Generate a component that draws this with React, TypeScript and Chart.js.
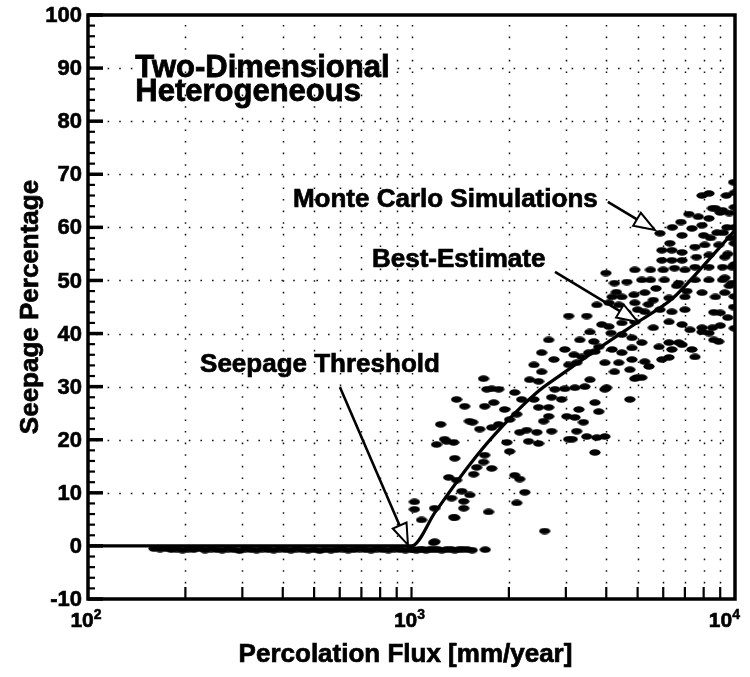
import React, { useEffect, useRef } from "react";
import { Chart, registerables } from "chart.js";

Chart.register(...registerables);

// ---------------- data ----------------
const X_MIN = 100;
const X_MAX = 10000;
const Y_MIN = -10;
const Y_MAX = 100;
const Y_STEP = 10;
const Y_MINOR_STEP = 2;

const yTickLabels = ["-10", "0", "10", "20", "30", "40", "50", "60", "70", "80", "90", "100"];
const xMajorTicks = [100, 1000, 10000];
const xMajorExponents = ["2", "3", "4"];
const xMinorTicks = [200, 300, 400, 500, 600, 700, 800, 900, 2000, 3000, 4000, 5000, 6000, 7000, 8000, 9000];

const xAxisTitle = "Percolation Flux [mm/year]";
const yAxisTitle = "Seepage Percentage";
const plotTitleLines = ["Two-Dimensional", "Heterogeneous"];
const annotationTexts = ["Monte Carlo Simulations", "Best-Estimate", "Seepage Threshold"];

const bestEstimateX = [100, 1000, 1185, 1500, 1810, 2430, 2910, 3960, 5110, 6380, 7520, 8900, 10000];
const bestEstimateY = [0, 0, 6.4, 15, 21, 28.8, 32.3, 38, 42.5, 46.5, 51, 56, 59.5];

const monteCarloX = [
  // zero-seepage realizations
  160, 167, 174, 181, 188, 196, 204, 212, 221, 230,
  240, 250, 260, 271, 282, 294, 306, 319, 332, 346,
  360, 375, 391, 407, 424, 441, 460, 479, 499, 520,
  541, 564, 587, 612, 637, 664, 691, 720, 750, 781,
  814, 848, 883, 920, 958, 998,
  1010, 1035, 1060, 1085, 1110, 1140, 1170, 1200, 1240, 1280,
  1320, 1360, 1400, 1440, 1490, 1540, 1690,
  // low flux
  1230, 1545, 1625, 1770, 1860,
  2160, 2270, 2440, 2710, 2560,
  1283, 1350, 1195, 1970, 2010,
  2300, 2470, 1683, 1360, 1670,
  1590, 1770, 1556, 1303, 1378,
  2085, 2160, 2240, 1450, 1515,
  1330, 2115, 1021, 1021, 1178,
  1450, 1730, 1074, 1360, 2580,
  1170,
  // mid flux
  3740, 4075, 3060, 3480, 3875,
  4075, 2655, 3313, 3560, 3660,
  3790, 2525, 2755, 2978, 3178,
  3360, 3530, 3690, 2390, 2525,
  3060, 3240, 1670, 2318, 2470,
  2775, 2978, 3200, 3435, 3560,
  1770, 1860, 2085, 2190, 2710,
  2910, 2390, 1683, 1795, 3690,
  2470, 2655, 3290, 1940, 2115,
  2010, 3790, 3020, 3200, 2655,
  1378, 1265, 1430, 1350, 1180,
  1710, 1460, 1510, 3240, 3480,
  3740, 3060, 3690, 3960, 4730,
  4980, 4010, 3400, 3140,
  // 4000-9000
  4370, 4900, 5260, 5860, 6380,
  7000, 9000, 6250, 6860, 7260,
  7910, 8310, 4470, 4900, 5590,
  4140, 4470, 4800, 5150, 5820,
  6250, 6860, 7360, 4170, 4470,
  4800, 3960, 4370, 4800, 5260,
  5940, 4240, 4730, 4900, 5150,
  // high flux
  5860, 6290, 6860, 7360, 7910,
  8310, 9000, 8700, 8310, 9450,
  9600, 9950, 5940, 6380, 6860,
  7520, 8060, 8900, 5940, 6380,
  6860, 7600, 8310, 9300, 5480,
  6000, 6500, 7000, 4900, 7520,
  8310, 9150, 9800, 5150, 5480,
  6050, 6700, 7520, 8310, 9150,
  9800, 4240, 4630, 4170, 4470,
  4870, 5260, 5590, 6250, 7000,
  7910, 8700, 9300,
  // extras
  7910, 8520, 8900, 6700, 6380,
  5420, 7520, 6250, 3960, 8600,
  7910, 8520, 9150, 3990, 4300,
  9950, 9950, 9900, 9950, 9950,
  9950, 9700, 9500, 9200, 8800,
  8400, 8000, 7700, 7200, 6800,
  6400, 9400, 9900, 9500, 9000,
  8600, 9950, 9600, 9300, 5700,
  6600, 7100, 4600, 5000, 5400,
];

const monteCarloY = [
  // zero-seepage realizations
  -0.5, -0.6, -0.5, -0.7, -0.6, -0.8, -0.6, -0.7, -0.5, -0.8,
  -0.6, -0.7, -0.8, -0.6, -0.7, -0.9, -0.6, -0.7, -0.8, -0.6,
  -0.7, -0.8, -0.6, -0.7, -0.8, -0.6, -0.7, -0.8, -0.7, -0.9,
  -0.7, -0.8, -0.7, -0.6, -0.8, -0.7, -0.6, -0.7, -0.8, -0.6,
  -0.7, -0.8, -0.6, -0.7, -0.8, -0.6,
  -0.7, -0.8, -0.6, -0.7, -0.8, -0.6, -0.7, -0.6, -0.8, -0.7,
  -0.6, -0.8, -0.7, -0.6, -0.7, -0.8, -0.7,
  // low flux
  22.9, 23.3, 22.0, 22.3, 22.9,
  21.4, 21.8, 21.4, 21.6, 23.5,
  19.7, 19.5, 19.1, 19.5, 17.8,
  19.7, 19.3, 17.1, 16.5, 15.8,
  14.8, 14.6, 13.5, 12.9, 12.4,
  13.3, 12.6, 10.1, 8.4, 9.6,
  9.0, 8.1, 8.3, 6.9, 7.1,
  7.1, 6.4, 4.9, 5.3, 2.8,
  0.6,
  // mid flux
  45.4, 45.8, 43.3, 43.3, 41.7,
  41.3, 38.8, 38.8, 40.3, 38.5,
  37.5, 36.4, 35.1, 37.0, 36.0,
  35.6, 36.4, 36.6, 34.1, 32.8,
  34.1, 34.5, 31.5, 31.3, 31.0,
  29.5, 29.6, 29.8, 30.0, 31.3,
  29.6, 29.5, 28.9, 27.6, 28.0,
  27.6, 27.6, 26.3, 27.0, 27.0,
  26.1, 26.1, 25.7, 25.7, 24.8,
  23.8, 25.3, 24.4, 24.2, 24.4,
  27.6, 20.1, 10.3, 5.4, 0.8,
  29.5, 26.3, 23.5, 21.6, 20.6,
  20.4, 20.1, 17.6, 20.6, 27.6,
  31.7, 29.8, 23.3, 20.1,
  // 4000-9000
  45.4, 45.8, 44.1, 44.5, 44.1,
  44.5, 43.9, 42.2, 41.7, 40.7,
  40.3, 40.1, 42.0, 42.2, 41.1,
  40.1, 39.8, 39.2, 38.3, 37.5,
  38.3, 37.9, 37.0, 37.0, 36.4,
  37.3, 34.5, 34.5, 35.1, 34.7,
  35.1, 32.8, 33.2, 31.5, 31.7,
  // high flux
  58.9, 57.0, 58.5, 59.8, 60.4,
  61.7, 62.8, 63.6, 66.4, 60.0,
  62.7, 63.8, 55.7, 55.7, 55.3,
  56.3, 56.7, 56.7, 53.8, 53.8,
  53.8, 54.4, 54.8, 54.4, 52.0,
  52.0, 52.3, 52.0, 52.0, 52.5,
  52.5, 52.5, 52.5, 50.1, 50.1,
  50.1, 49.5, 50.1, 50.1, 50.1,
  49.5, 49.5, 49.7, 46.9, 46.9,
  47.3, 47.7, 46.3, 46.7, 46.9,
  47.7, 46.9, 47.7,
  // extras
  41.1, 41.1, 38.5, 38.3, 37.0,
  33.8, 35.6, 35.5, 29.5, 38.8,
  66.0, 63.6, 63.2, 51.4, 47.8,
  66.5, 57.0, 45.0, 41.0, 60.0,
  53.0, 58.0, 55.0, 59.0, 59.0,
  58.0, 58.5, 62.0, 62.5, 61.0,
  60.0, 66.0, 68.5, 43.0, 41.5,
  44.0, 47.0, 49.0, 50.5, 48.5,
  49.0, 48.0, 44.0, 44.5, 45.5,
];

// ---------------- layout / style ----------------
const FONT = '"Liberation Sans", Arial, Helvetica, sans-serif';
const W = 750;
const H = 677;

const layout = {
  plotLeft: 88,
  plotRightPad: 15,
  plotTop: 15,
  xAxisHeight: 78,
  titlePos: [
    { x: 140, y: 88.3 },
    { x: 140, y: 83.8 },
  ],
  titleSize: 31,
  annSize: 26,
  annPos: [
    { x: 430, y: 63.8 },
    { x: 755, y: 52.5 },
    { x: 222, y: 32.8 },
  ],
  arrows: [
    { x1: 4045, y1: 64.8, x2: 5660, y2: 59.5 },
    { x1: 2777, y1: 51.6, x2: 5010, y2: 42.2 },
    { x1: 601, y1: 29.9, x2: 975, y2: 0.2 },
  ],
};

function heavyText(ctx: CanvasRenderingContext2D, t: string, x: number, y: number, sw = 0.7) {
  ctx.fillText(t, x, y);
  ctx.lineWidth = sw;
  ctx.strokeText(t, x, y);
}

function drawArrow(ctx: CanvasRenderingContext2D, x1: number, y1: number, x2: number, y2: number) {
  const ang = Math.atan2(y2 - y1, x2 - x1);
  const headLen = 21;
  const headW = 7.5;
  const bx = x2 - headLen * Math.cos(ang);
  const by = y2 - headLen * Math.sin(ang);
  ctx.save();
  ctx.setLineDash([]);
  ctx.strokeStyle = "#000";
  ctx.lineWidth = 2.6;
  ctx.beginPath();
  ctx.moveTo(x1, y1);
  ctx.lineTo(bx, by);
  ctx.stroke();
  ctx.beginPath();
  ctx.moveTo(x2, y2);
  ctx.lineTo(bx + headW * Math.sin(ang), by - headW * Math.cos(ang));
  ctx.lineTo(bx - headW * Math.sin(ang), by + headW * Math.cos(ang));
  ctx.closePath();
  ctx.fillStyle = "#fff";
  ctx.fill();
  ctx.lineWidth = 2;
  ctx.stroke();
  ctx.restore();
}

const decorPlugin = {
  id: "decor",
  beforeDatasetsDraw(chart: any) {
    const { ctx, chartArea: a } = chart;
    const xs = chart.scales.x;
    const ys = chart.scales.y;
    ctx.save();
    ctx.beginPath();
    ctx.rect(a.left, a.top, a.right - a.left, a.bottom - a.top);
    ctx.clip();
    ctx.strokeStyle = "#111";
    ctx.lineWidth = 1.5;
    ctx.setLineDash([1.6, 10]);
    for (let v = Y_MIN + Y_STEP; v < Y_MAX; v += Y_STEP) {
      if (v === 0) continue;
      const py = Math.round(ys.getPixelForValue(v)) + 0.5;
      ctx.beginPath();
      ctx.moveTo(a.left + 8, py);
      ctx.lineTo(a.right, py);
      ctx.stroke();
    }
    for (const v of [...xMinorTicks, 1000]) {
      const px = Math.round(xs.getPixelForValue(v)) + 0.5;
      ctx.beginPath();
      ctx.moveTo(px, a.top + 10);
      ctx.lineTo(px, a.bottom - 12);
      ctx.stroke();
    }
    ctx.restore();
  },
  afterDatasetsDraw(chart: any) {
    const { ctx, chartArea: a } = chart;
    const xs = chart.scales.x;
    const ys = chart.scales.y;
    ctx.save();
    ctx.setLineDash([]);
    ctx.strokeStyle = "#000";
    ctx.fillStyle = "#000";
    // frame
    ctx.lineWidth = 3.5;
    ctx.strokeRect(a.left, a.top, a.right - a.left, a.bottom - a.top);
    // y ticks (inward)
    for (let v = Y_MIN; v <= Y_MAX; v += Y_MINOR_STEP) {
      const py = ys.getPixelForValue(v);
      const major = (v - Y_MIN) % Y_STEP === 0;
      ctx.lineWidth = major ? 3.5 : 2.2;
      ctx.beginPath();
      ctx.moveTo(a.left, py);
      ctx.lineTo(a.left + (major ? 15 : 7), py);
      ctx.stroke();
    }
    // x ticks (inward)
    ctx.lineWidth = 2.2;
    for (const v of [...xMinorTicks, 1000]) {
      const px = xs.getPixelForValue(v);
      ctx.beginPath();
      ctx.moveTo(px, a.bottom);
      ctx.lineTo(px, a.bottom - 12);
      ctx.stroke();
    }
    // y tick labels
    ctx.font = `bold 22px ${FONT}`;
    ctx.textAlign = "right";
    ctx.textBaseline = "middle";
    yTickLabels.forEach((t, i) => {
      const v = Y_MIN + i * Y_STEP;
      heavyText(ctx, t, a.left - 6, ys.getPixelForValue(v) + 1, 0.6);
    });
    // x major tick labels 10^n
    ctx.textBaseline = "alphabetic";
    ctx.textAlign = "left";
    xMajorTicks.forEach((v, i) => {
      const px = xs.getPixelForValue(v);
      ctx.font = `bold 21px ${FONT}`;
      const wBase = ctx.measureText("10").width;
      ctx.font = `bold 14px ${FONT}`;
      const wExp = ctx.measureText(xMajorExponents[i]).width;
      const total = wBase + wExp;
      let x0 = px - total / 2 - 2;
      if (x0 + total > W - 10) x0 = W - 10 - total;
      ctx.font = `bold 21px ${FONT}`;
      heavyText(ctx, "10", x0, a.bottom + 28, 0.6);
      ctx.font = `bold 14px ${FONT}`;
      heavyText(ctx, xMajorExponents[i], x0 + wBase, a.bottom + 20, 0.5);
    });
    // axis titles
    ctx.font = `bold 26px ${FONT}`;
    ctx.textAlign = "center";
    ctx.textBaseline = "alphabetic";
    heavyText(ctx, xAxisTitle, (a.left + a.right) / 2 - 6, 662);
    ctx.save();
    ctx.translate(38, (a.top + a.bottom) / 2);
    ctx.rotate(-Math.PI / 2);
    heavyText(ctx, yAxisTitle, 0, 0);
    ctx.restore();
    // plot title
    ctx.font = `bold ${layout.titleSize}px ${FONT}`;
    ctx.textAlign = "left";
    plotTitleLines.forEach((t, i) => {
      const p = layout.titlePos[i];
      heavyText(ctx, t, xs.getPixelForValue(p.x), ys.getPixelForValue(p.y), 0.8);
    });
    // annotations
    ctx.font = `bold ${layout.annSize}px ${FONT}`;
    annotationTexts.forEach((t, i) => {
      const p = layout.annPos[i];
      heavyText(ctx, t, xs.getPixelForValue(p.x), ys.getPixelForValue(p.y), 0.7);
    });
    layout.arrows.forEach((ar) => {
      drawArrow(
        ctx,
        xs.getPixelForValue(ar.x1),
        ys.getPixelForValue(ar.y1),
        xs.getPixelForValue(ar.x2),
        ys.getPixelForValue(ar.y2)
      );
    });
    ctx.restore();
  },
};

function makeBlob(): HTMLCanvasElement {
  const c = document.createElement("canvas");
  c.width = 12;
  c.height = 7;
  const g = c.getContext("2d")!;
  g.fillStyle = "#000";
  g.beginPath();
  g.ellipse(6, 3.5, 5.6, 3.3, 0, 0, Math.PI * 2);
  g.fill();
  return c;
}

export default function App() {
  const ref = useRef<HTMLCanvasElement | null>(null);

  useEffect(() => {
    if (!ref.current) return;
    const blob = makeBlob();
    const mcData = monteCarloX.map((x, i) => ({ x, y: monteCarloY[i] }));
    const beData = bestEstimateX.map((x, i) => ({ x, y: bestEstimateY[i] }));

    const chart = new Chart(ref.current, {
      type: "scatter",
      data: {
        datasets: [
          {
            label: "Best-Estimate",
            data: beData,
            showLine: true,
            borderColor: "#000",
            borderWidth: 3.2,
            pointRadius: 0,
            cubicInterpolationMode: "monotone",
            order: 0,
          } as any,
          {
            label: "Monte Carlo Simulations",
            data: mcData,
            showLine: false,
            pointStyle: blob as any,
            pointRadius: 5,
            backgroundColor: "#000",
            borderColor: "#000",
            order: 1,
          } as any,
        ],
      },
      options: {
        responsive: false,
        animation: false,
        devicePixelRatio: 1,
        layout: {
          padding: { left: 0, right: layout.plotRightPad, top: layout.plotTop, bottom: 0 },
        },
        plugins: {
          legend: { display: false },
          tooltip: { enabled: false },
        },
        scales: {
          x: {
            type: "logarithmic",
            min: X_MIN,
            max: X_MAX,
            grid: { display: false, drawTicks: false },
            border: { display: false },
            ticks: { display: false },
            afterFit: (s: any) => {
              s.height = layout.xAxisHeight;
            },
          },
          y: {
            type: "linear",
            min: Y_MIN,
            max: Y_MAX,
            grid: { display: false, drawTicks: false },
            border: { display: false },
            ticks: { display: false, stepSize: Y_STEP },
            afterFit: (s: any) => {
              s.width = layout.plotLeft;
            },
          },
        },
      } as any,
      plugins: [decorPlugin],
    });
    return () => chart.destroy();
  }, []);

  return (
    <div style={{ position: "absolute", left: 0, top: 0, width: W, height: H, background: "#fff" }}>
      <canvas ref={ref} width={W} height={H} style={{ display: "block" }} />
    </div>
  );
}
